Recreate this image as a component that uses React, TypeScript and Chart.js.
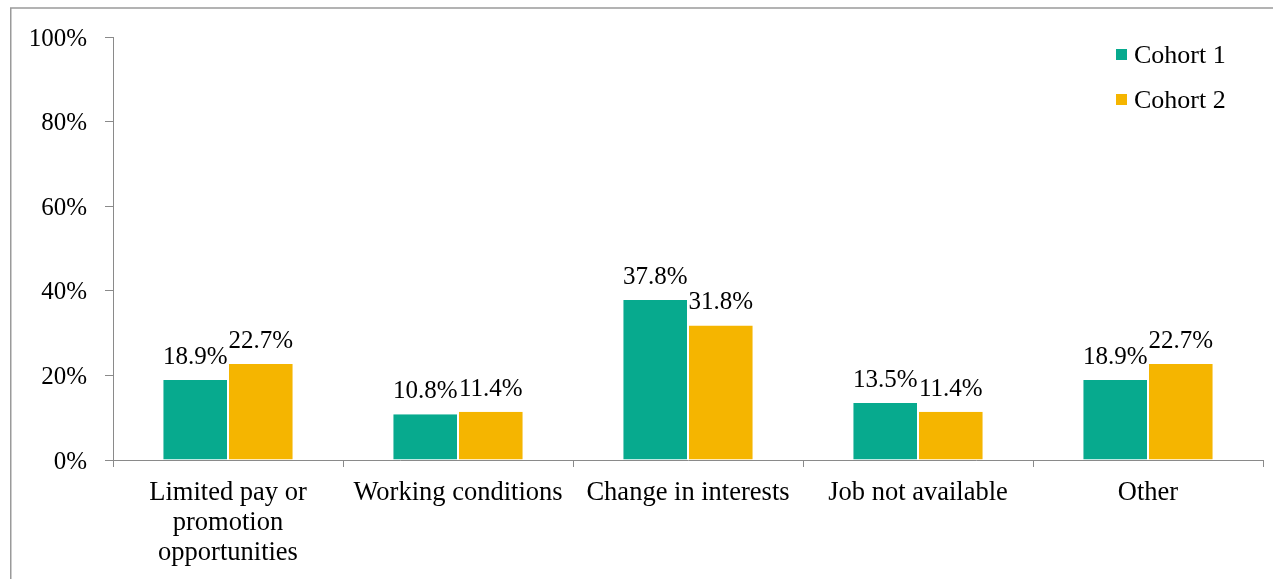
import React, { useEffect, useRef } from "react";
import { Chart, registerables } from "chart.js";

Chart.register(...registerables);

const categories: (string | string[])[] = [
  ["Limited pay or", "promotion", "opportunities"],
  "Working conditions",
  "Change in interests",
  "Job not available",
  "Other",
];
const cohort1 = [18.9, 10.8, 37.8, 13.5, 18.9];
const cohort2 = [22.7, 11.4, 31.8, 11.4, 22.7];
const seriesNames = ["Cohort 1", "Cohort 2"];
const seriesColors = ["#07AA8E", "#F5B500"];
const yTicks = [0, 20, 40, 60, 80, 100];

const FONT = "'Liberation Serif', 'Times New Roman', serif";
const FS = 25;

const framePlugin = {
  id: "frame",
  beforeDraw(chart: any) {
    const ctx = chart.ctx;
    ctx.save();
    ctx.strokeStyle = "#9a9a9a";
    ctx.lineWidth = 1.5;
    ctx.strokeRect(10.75, 8, 2000, 1000);
    ctx.restore();
  },
};

const labelPlugin = {
  id: "valueLabels",
  afterDatasetsDraw(chart: any) {
    const ctx = chart.ctx;
    ctx.save();
    ctx.font = `${FS}px ${FONT}`;
    ctx.fillStyle = "#000";
    ctx.textAlign = "center";
    ctx.textBaseline = "alphabetic";
    chart.data.datasets.forEach((ds: any, i: number) => {
      const meta = chart.getDatasetMeta(i);
      meta.data.forEach((bar: any, j: number) => {
        const v = ds.data[j];
        ctx.fillText(v.toFixed(1) + "%", bar.x, bar.y - 16);
      });
    });
    ctx.restore();
  },
};

const legendPlugin = {
  id: "customLegend",
  afterDraw(chart: any) {
    const ctx = chart.ctx;
    ctx.save();
    ctx.font = `26px ${FONT}`;
    ctx.textBaseline = "alphabetic";
    ctx.textAlign = "left";
    chart.data.datasets.forEach((ds: any, i: number) => {
      const top = 49 + i * 45;
      ctx.fillStyle = ds.backgroundColor;
      ctx.fillRect(1116, top, 11, 11);
      ctx.fillStyle = "#000";
      ctx.fillText(ds.label, 1134, top + 14);
    });
    ctx.restore();
  },
};

export default function App() {
  const ref = useRef<HTMLCanvasElement | null>(null);
  useEffect(() => {
    if (!ref.current) return;
    const chart = new Chart(ref.current, {
      type: "bar",
      data: {
        labels: categories,
        datasets: [cohort1, cohort2].map((d, i) => ({
          label: seriesNames[i],
          data: d,
          backgroundColor: seriesColors[i],
          borderColor: "#ffffff",
          borderWidth: { left: 1, right: 1, top: 0, bottom: 0 },
          borderSkipped: false,
          barPercentage: 1,
          categoryPercentage: 0.57,
        })),
      },
      options: {
        animation: false,
        responsive: false,
        maintainAspectRatio: false,
        layout: { padding: { left: 0, right: 10, top: 37, bottom: 0 } },
        plugins: {
          legend: { display: false },
          tooltip: { enabled: false },
        },
        scales: {
          x: {
            offset: true,
            afterFit(scale: any) {
              scale.height = 119;
            },
            grid: {
              offset: true,
              drawOnChartArea: false,
              drawTicks: true,
              tickLength: 7,
              color: "#8a8a8a",
              lineWidth: 1,
            },
            border: { display: true, color: "#8a8a8a", width: 1 },
            ticks: {
              autoSkip: false,
              maxRotation: 0,
              minRotation: 0,
              padding: 11,
              color: "#000",
              font: { family: FONT, size: 26.5, lineHeight: "30px" },
            },
          },
          y: {
            min: 0,
            max: 100,
            afterFit(scale: any) {
              scale.width = 113;
            },
            afterBuildTicks(scale: any) {
              scale.ticks = yTicks.map((v) => ({ value: v }));
            },
            grid: {
              drawOnChartArea: false,
              drawTicks: true,
              tickLength: 8,
              color: "#8a8a8a",
              lineWidth: 1,
            },
            border: { display: true, color: "#8a8a8a", width: 1 },
            ticks: {
              padding: 18,
              labelOffset: 2,
              color: "#000",
              font: { family: FONT, size: FS },
              callback: (v: any) => v + "%",
            },
          },
        },
      },
      plugins: [framePlugin, labelPlugin, legendPlugin],
    } as any);
    return () => chart.destroy();
  }, []);
  return (
    <div
      style={{
        position: "fixed",
        left: 0,
        top: 0,
        width: 1273,
        height: 579,
        background: "#fff",
      }}
    >
      <canvas ref={ref} width={1273} height={579} style={{ width: 1273, height: 579 }} />
    </div>
  );
}
